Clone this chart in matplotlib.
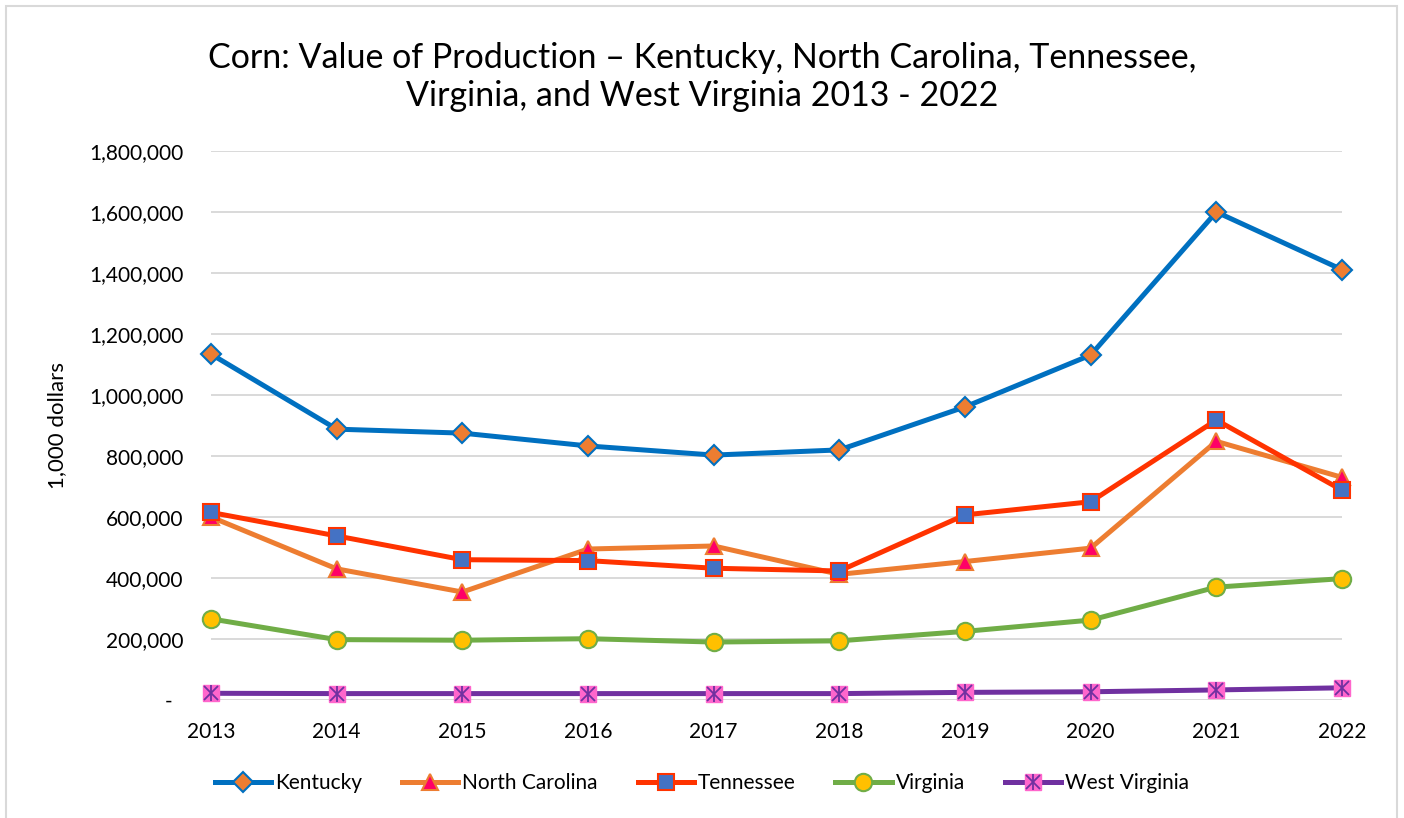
import matplotlib
matplotlib.use("Agg")
import matplotlib.pyplot as plt
from matplotlib.ticker import FuncFormatter
from matplotlib.legend_handler import HandlerTuple
from matplotlib.patches import Rectangle

years = [2013, 2014, 2015, 2016, 2017, 2018, 2019, 2020, 2021, 2022]
kentucky = [1134000, 888000, 875000, 833000, 803000, 820000, 961000, 1131000, 1600000, 1411000]
north_carolina = [600000, 430000, 354000, 495000, 505000, 412000, 454000, 498000, 848000, 730000]
tennessee = [615000, 538000, 460000, 457000, 432000, 423000, 607000, 650000, 918000, 688000]
virginia = [266000, 198000, 196000, 201000, 190000, 194000, 225000, 262000, 370000, 398000]
west_virginia = [22000, 21000, 21000, 21000, 21000, 21000, 25000, 27000, 33000, 40000]

plt.rcParams['font.family'] = ['Lato', 'DejaVu Sans']

fig = plt.figure(figsize=(14.04, 8.18), dpi=100)
ax = fig.add_axes([211 / 1404, 1 - 700 / 818, (1342 - 211) / 1404, (700 - 151) / 818])

lw = 3.6
ky, = ax.plot(years, kentucky, color='#0070C0', lw=lw, marker='D', ms=10,
              mfc='#ED7D31', mec='#0070C0', mew=1.5, clip_on=False, label='Kentucky')
nc, = ax.plot(years, north_carolina, color='#ED7D31', lw=lw, marker='^', ms=12,
              mfc='#FF0066', mec='#ED7D31', mew=1.5, clip_on=False, label='North Carolina')
tn, = ax.plot(years, tennessee, color='#FF3300', lw=lw, marker='s', ms=12,
              mfc='#4472C4', mec='#FF3300', mew=1.5, clip_on=False, label='Tennessee')
va, = ax.plot(years, virginia, color='#70AD47', lw=lw, marker='o', ms=12.5,
              mfc='#FFC000', mec='#70AD47', mew=1.5, clip_on=False, label='Virginia')
wv, = ax.plot(years, west_virginia, color='#7030A0', lw=lw, marker='s', ms=12,
              mfc='#FF66CC', mec='#FF66CC', mew=1, clip_on=False, label='West Virginia')
wv_x, = ax.plot(years, west_virginia, ls='none', marker='x', ms=10, mec='#7030A0',
                mew=1.3, clip_on=False)
wv_v, = ax.plot(years, west_virginia, ls='none', marker='|', ms=12, mec='#7030A0',
                mew=1.3, clip_on=False)

ax.set_xlim(2013, 2022)
ax.set_ylim(0, 1800000)
ax.set_xticks(years)
ax.set_yticks(range(0, 1800001, 200000))
ax.yaxis.set_major_formatter(FuncFormatter(lambda v, p: '-  ' if v == 0 else f'{int(v):,}'))
ax.grid(axis='y', color='#D9D9D9', lw=1.4)
ax.set_axisbelow(True)
for s in ax.spines.values():
    s.set_visible(False)
ax.tick_params(axis='y', length=0, pad=20, labelsize=15)
ax.tick_params(axis='x', length=0, pad=16, labelsize=15)
ax.set_ylabel('1,000 dollars', fontsize=16, labelpad=16)

fig.text(0.5, 1 - 77 / 818, 'Corn: Value of Production \u2013 Kentucky, North Carolina, Tennessee,\n'
         'Virginia, and West Virginia 2013 - 2022', ha='center', va='center',
         fontsize=24.5, linespacing=1.2)

fig.legend([ky, nc, tn, va, (wv, wv_x, wv_v)],
           ['Kentucky', 'North Carolina', 'Tennessee', 'Virginia', 'West Virginia'],
           handler_map={tuple: HandlerTuple(ndivide=1, pad=0)},
           loc='center', bbox_to_anchor=(0.5, 1 - 783 / 818),
           ncol=5, frameon=False, fontsize=15, handlelength=2.7, handletextpad=0.2,
           columnspacing=1.9)

fig.patches.append(Rectangle((6 / 1404, -0.02), (1397 - 6) / 1404, 1.02 - 6 / 818,
                             transform=fig.transFigure, fill=False, ec='#D9D9D9', lw=1.5))

fig.savefig('out.png', dpi=100)
